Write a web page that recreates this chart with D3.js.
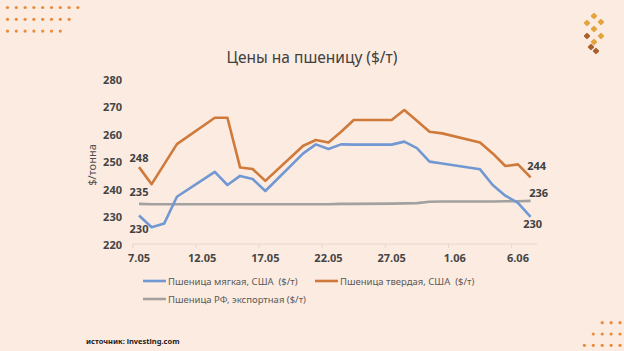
<!DOCTYPE html>
<html>
<head>
<meta charset="utf-8">
<script src="https://cdn.jsdelivr.net/npm/d3@7"></script>
<style>
  body { margin: 0; background: #fcebe1; }
  svg { display: block; font-family: "Noto Sans", sans-serif; }
  .legend text { white-space: pre; }
</style>
</head>
<body>
<svg width="624" height="351"></svg>
<script>
// данные (2024, рабочие дни)
var dates = ["7.05","8.05","9.05","10.05","13.05","14.05","15.05","16.05","17.05",
  "20.05","21.05","22.05","23.05","24.05","27.05","28.05","29.05","30.05","31.05",
  "3.06","4.06","5.06","6.06","7.06"];
var softUS = [230.4,226.1,227.5,237.2,246.3,241.5,244.8,243.7,239.3,
  253.0,256.3,254.6,256.3,256.2,256.2,257.3,254.9,250.0,249.3,
  247.2,241.5,237.6,235.0,229.9];
var durumUS = [248.0,241.8,249.1,256.4,266.0,266.0,247.9,247.3,243.0,
  255.8,257.9,257.0,260.9,265.2,265.2,268.8,264.9,260.9,260.3,
  257.0,253.0,248.4,249.0,244.3];
var ruExport = [234.6,234.5,234.5,234.5,234.5,234.5,234.5,234.5,234.5,
  234.5,234.5,234.5,234.6,234.6,234.7,234.8,234.9,235.4,235.5,
  235.5,235.5,235.6,235.6,235.7];
var xTickLabels = ["7.05","12.05","17.05","22.05","27.05","1.06","6.06"];
var yTicks = [220,230,240,250,260,270,280];
var seriesNames = ["Пшеница мягкая, США  ($/т)","Пшеница твердая, США  ($/т)","Пшеница РФ, экспортная ($/т)"];

var svg = d3.select("svg");

// день -> номер дня от 1 мая
function dayNum(s) {
  var p = s.split(".");
  return +p[0] + (p[1] == "06" ? 31 : 0);
}

var x = d3.scaleLinear().domain([6.5, 38.5]).range([132.7, 536.9]);
var y = d3.scaleLinear().domain([220, 280]).range([244, 79.3]);

var series = [
  { name: seriesNames[0], values: softUS, color: "#7198d2",
    labels: [[0, 0, 13], [23, 2, 7]] },
  { name: seriesNames[1], values: durumUS, color: "#cf7a3b",
    labels: [[0, 0, -10], [23, 6, -12]] },
  { name: seriesNames[2], values: ruExport, color: "#a3a19f",
    labels: [[0, 0, -12], [23, 8, -8]] }
];

// декор: точки
var dots = svg.append("g").attr("fill", "#ea8b3a");
[9, 8, 7].forEach(function(n, r) {
  for (var i = 0; i < n; i++)
    dots.append("circle").attr("cx", 7.5 + i * 8.8).attr("cy", 7.5 + r * 11.8).attr("r", 1.6);
});
[3, 4, 5].forEach(function(n, r) {
  for (var i = 0; i < n; i++)
    dots.append("circle").attr("cx", 620 - i * 8.9).attr("cy", 322.7 + r * 11.3).attr("r", 1.6);
});

// логотип (колос)
var logo = svg.append("g").attr("transform", "translate(594,31)");
[[0,-15,"#e3a43c"],[-7,-8,"#e3a43c"],[7,-9,"#e3a43c"],[0,-2,"#e3a43c"],
 [7,5,"#e3a43c"],[0,11,"#e3a43c"],[-7,5,"#a8612e"],[-3,16,"#a8612e"],[2,20,"#a8612e"]].forEach(function(d){
  logo.append("rect").attr("x", d[0]-2.5).attr("y", d[1]-2.5).attr("width", 5).attr("height", 5)
    .attr("rx", 1).attr("fill", d[2])
    .attr("transform", "rotate(45," + d[0] + "," + d[1] + ")");
});

// заголовок
svg.append("text").attr("x", 312).attr("y", 63).attr("text-anchor", "middle")
  .attr("font-size", 15.5).attr("fill", "#404040").text("Цены на пшеницу ($/т)");

// ось X
svg.append("line").attr("x1", x(6.5)).attr("x2", x(38.5)).attr("y1", y(220)).attr("y2", y(220))
  .attr("stroke", "#e6d6cc").attr("stroke-width", 1);
xTickLabels.forEach(function(t) {
  var d = dayNum(t);
  svg.append("line").attr("x1", x(d - 0.5)).attr("x2", x(d - 0.5))
    .attr("y1", y(220)).attr("y2", y(220) + 4).attr("stroke", "#e6d6cc");
  svg.append("text").attr("x", x(d)).attr("y", 262).attr("text-anchor", "middle")
    .attr("font-size", 11).attr("font-weight", 700).attr("fill", "#454545").text(t);
});

// ось Y
yTicks.forEach(function(t) {
  svg.append("text").attr("x", 122).attr("y", y(t)).attr("text-anchor", "end")
    .attr("dominant-baseline", "central")
    .attr("font-size", 11).attr("font-weight", 700).attr("fill", "#454545").text(t);
});
svg.append("text").attr("transform", "translate(96,165) rotate(-90)")
  .attr("text-anchor", "middle").attr("font-size", 11).attr("fill", "#505050").text("$/тонна");

// линии
var line = d3.line()
  .x(function(d, i) { return x(dayNum(dates[i])); })
  .y(function(d) { return y(d); });

series.slice().reverse().forEach(function(s) {
  svg.append("path").attr("d", line(s.values)).attr("fill", "none")
    .attr("stroke", s.color).attr("stroke-width", 2.6).attr("stroke-linejoin", "round");
});

// подписи значений
series.forEach(function(s) {
  s.labels.forEach(function(l) {
    var i = l[0];
    svg.append("text").attr("x", x(dayNum(dates[i])) + l[1]).attr("y", y(s.values[i]) + l[2])
      .attr("text-anchor", "middle").attr("dominant-baseline", "central")
      .attr("font-size", 11).attr("font-weight", 700).attr("fill", "#404040")
      .text(d3.format(".0f")(s.values[i]));
  });
});

// легенда
var legendPos = [[143, 281], [315, 281], [143, 299]];
var legend = svg.append("g").attr("class", "legend");
series.forEach(function(s, i) {
  var g = legend.append("g").attr("transform", "translate(" + legendPos[i] + ")");
  g.append("line").attr("x1", 0).attr("x2", 23).attr("stroke", s.color).attr("stroke-width", 2.6);
  g.append("text").attr("x", 25).attr("dominant-baseline", "central")
    .attr("font-size", 9.5).attr("fill", "#595959").text(s.name);
});

// источник
svg.append("text").attr("x", 86).attr("y", 344).attr("font-size", 7.5).attr("font-weight", 700)
  .attr("fill", "#1a1a1a").text("источник: investing.com");
</script>
</body>
</html>
